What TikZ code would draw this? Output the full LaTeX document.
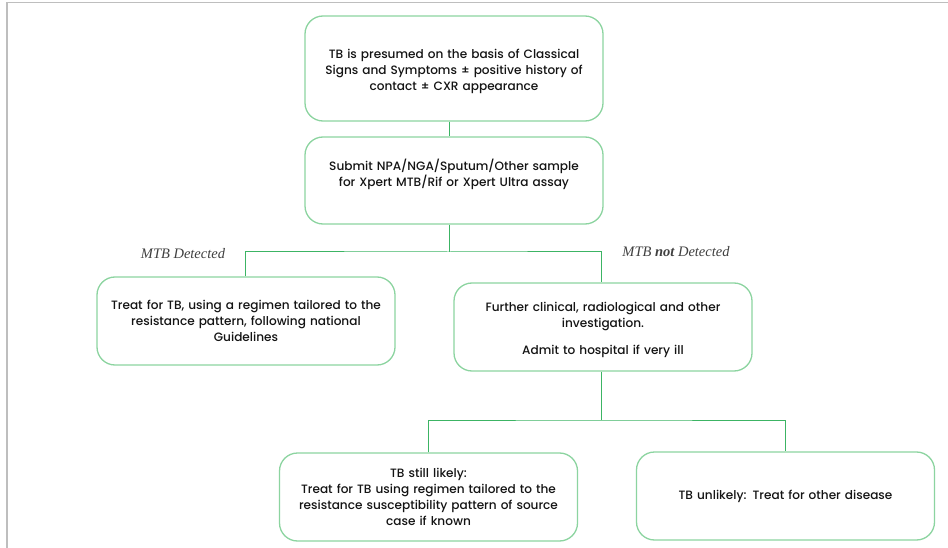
\documentclass[tikz,border=0pt]{standalone}
\usepackage{fontspec}
\setmainfont{Poppins Medium}
\newfontfamily\labelfont{Liberation Serif}
\definecolor{boxline}{RGB}{140,212,160}
\definecolor{linkline}{RGB}{60,180,100}
\definecolor{frameline}{RGB}{190,190,190}
\definecolor{ink}{RGB}{20,20,20}
\begin{document}
\begin{tikzpicture}[x=1pt,y=-1pt,
  stepbox/.style={draw=boxline, line width=1.3pt, rounded corners=18pt,
    minimum width=298pt, minimum height=88pt, text width=292pt, align=center,
    font=\fontsize{12.1}{16}\selectfont, text=ink, inner sep=0pt},
  link/.style={draw=linkline, line width=1pt},
  branch/.style={font=\fontsize{14.5}{16}\selectfont\labelfont\itshape, text=black!75}]
\useasboundingbox (0,0) rectangle (948,548);
\fill[white] (0,0) rectangle (948,548);
% page frame
\draw[frameline, line width=1.5pt] (7,548) -- (7,2.5) -- (948,2.5);

% boxes
\node[stepbox, minimum height=105pt] (b1) at (454,68.5)
  {\rule{0pt}{16pt}TB is presumed on the basis of Classical\\Signs and Symptoms ± positive history of\\contact ± CXR appearance};
\node[stepbox, minimum height=87pt] (b2) at (454,180.5)
  {Submit NPA/NGA/Sputum/Other sample\\for Xpert MTB/Rif or Xpert Ultra assay\\\mbox{}};
\node[stepbox] (b3) at (246,321)
  {Treat for TB, using a regimen tailored to the\\resistance pattern, following national\\Guidelines};
\node[stepbox] (b4) at (603,327)
  {\rule{0pt}{15pt}Further clinical, radiological and other\\investigation.\\[11pt]Admit to hospital if very ill};
\node[stepbox] (b5) at (428.5,497)
  {TB still likely:\\Treat for TB using regimen tailored to the\\resistance susceptibility pattern of source\\case if known};
\node[stepbox] (b6) at (785.5,496)
  {TB unlikely: Treat for other disease};

% branch labels
\node[branch] (l1) at (183,254) {MTB Detected};
\node[branch] (l2) at (676,252) {MTB \textbf{not} Detected};

% connectors
\coordinate (j1) at (449,252);
\coordinate (j2) at (601,420);
\draw[link] ([xshift=-5pt]b1.south) -- ([xshift=-5pt]b2.north);
\draw[link] ([xshift=-5pt]b2.south) -- (j1);
\draw[link] ([xshift=-1pt]b3.north) |- (j1) -| ([xshift=-2pt]b4.north);
\draw[link] ([xshift=-2pt]b4.south) -- (j2);
\draw[link] (b5.north) |- (j2) -| (b6.north);
\end{tikzpicture}
\end{document}
